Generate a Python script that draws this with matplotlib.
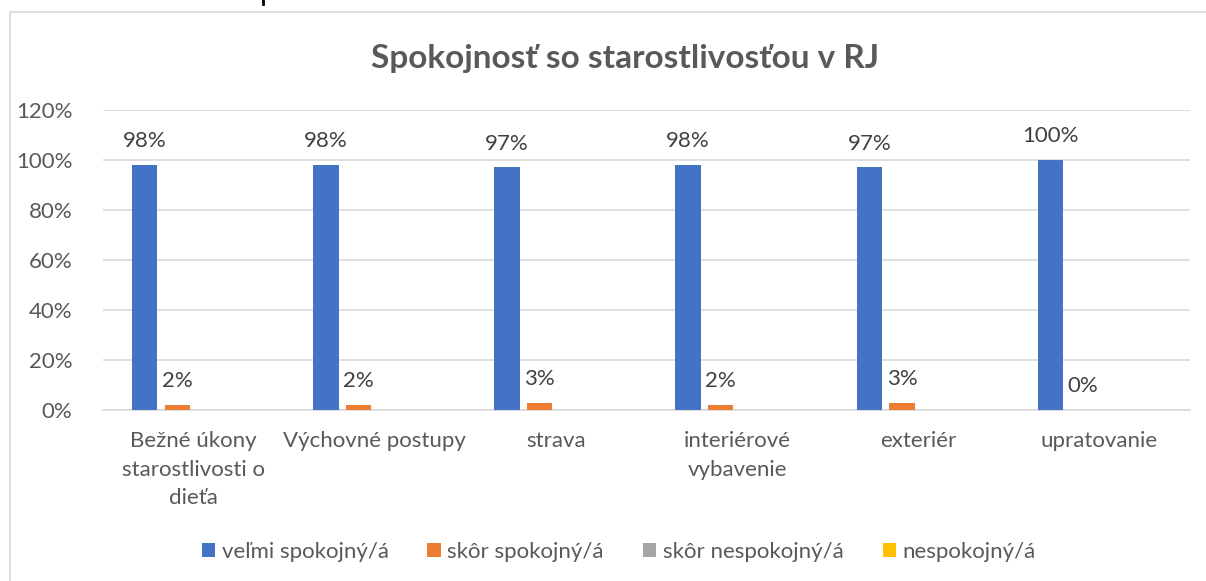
import numpy as np
import matplotlib
matplotlib.use("Agg")
import matplotlib.pyplot as plt
from matplotlib.patches import Rectangle
from matplotlib.lines import Line2D

# data
categories = ["Bežné úkony\nstarostlivosti o\ndieťa", "Výchovné postupy", "strava",
              "interiérové\nvybavenie", "exteriér", "upratovanie"]
series_names = ["veľmi spokojný/á", "skôr spokojný/á", "skôr nespokojný/á", "nespokojný/á"]
velmi = [98, 98, 97, 98, 97, 100]
skor_spok = [2, 2, 3, 2, 3, 0]
skor_nespok = [0, 0, 0, 0, 0, 0]
nespok = [0, 0, 0, 0, 0, 0]
colors = ["#4472C4", "#ED7D31", "#A5A5A5", "#FFC000"]

plt.rcParams["font.family"] = ["Lato", "DejaVu Sans"]
text_gray = "#595959"
fs = 16

fig = plt.figure(figsize=(12.06, 5.81), dpi=100)
ax = fig.add_axes([0.0854, 0.2943, 0.9013, 0.5164])

# chart border (cut by the picture edge)
fig.patches.append(Rectangle((10 / 1206, -0.2), 1.2, 1.2 - 12 / 581,
                             transform=fig.transFigure, fill=False,
                             edgecolor="#d9d9d9", linewidth=1.2))
# descender of the document text just above the chart
fig.lines.append(Line2D([263 / 1206, 263 / 1206], [1, 1 - 4 / 581],
                        transform=fig.transFigure, color="black", linewidth=2))

x = np.arange(len(categories))
step = 0.18
width = 0.14
all_series = [velmi, skor_spok, skor_nespok, nespok]
for k, (vals, name, col) in enumerate(zip(all_series, series_names, colors)):
    pos = x + (k - 1.5) * step
    ax.bar(pos, vals, width, color=col, label=name, zorder=3)
    if k < 2:
        for px, v in zip(pos, vals):
            ax.annotate(f"{v}%", (px, v), xytext=(0, 10), textcoords="offset points",
                        ha="center", va="bottom", fontsize=fs, color="#404040")

ax.set_xlim(-0.5, len(categories) - 0.5)
ax.set_ylim(0, 120)
ax.set_yticks(range(0, 121, 20))
ax.set_yticklabels([f"{t}%" for t in range(0, 121, 20)], fontsize=fs, color=text_gray)
ax.set_xticks(x)
ax.set_xticklabels(categories, fontsize=fs, color=text_gray)
for lbl in ax.get_xticklabels():
    lbl.set_multialignment("center")
    lbl.set_linespacing(1.55)
ax.tick_params(axis="y", length=0, pad=22)
ax.tick_params(axis="x", length=0, pad=15)
ax.grid(axis="y", color="#d9d9d9", linewidth=1.2, zorder=0)
for s in ["top", "right", "left"]:
    ax.spines[s].set_visible(False)
ax.spines["bottom"].set_color("#d9d9d9")
ax.spines["bottom"].set_linewidth(1.2)

fig.text(0.5185, 0.9, "Spokojnosť so starostlivosťou v RJ", ha="center", va="center",
         fontsize=24, fontweight="bold", color=text_gray)

fig.legend(loc="center", bbox_to_anchor=(0.513, 0.05), ncol=4, frameon=False,
           fontsize=fs, labelcolor=text_gray, handlelength=0.6, handleheight=0.6,
           handletextpad=0.3, columnspacing=1.75)

fig.savefig("out.png", dpi=100)
